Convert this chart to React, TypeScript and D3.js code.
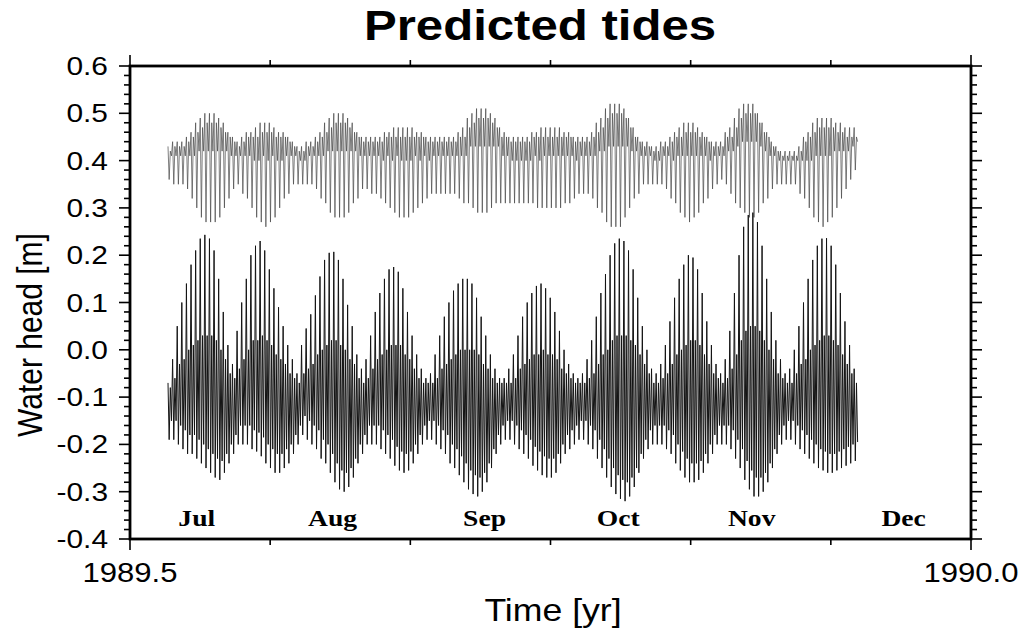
import React from "react";
import * as d3 from "d3";

// ---- text & axes ----
const titleText = "Predicted tides";
const xAxisLabel = "Time [yr]";
const yAxisLabel = "Water head [m]";
const xDomain = [1989.5, 1990.0];
const yDomain = [-0.4, 0.6];
const xTickValues = [1989.5, 1990.0];
const xTickLabels = ["1989.5", "1990.0"];
const yTickValues = [-0.4, -0.3, -0.2, -0.1, 0.0, 0.1, 0.2, 0.3, 0.4, 0.5, 0.6];
const yTickLabels = ["-0.4", "-0.3", "-0.2", "-0.1", "0.0", "0.1", "0.2", "0.3", "0.4", "0.5", "0.6"];
const monthLabels = ["Jul", "Aug", "Sep", "Oct", "Nov", "Dec"];
// label anchor: days after 1989.5
const monthLabelDays = [14.5, 44, 77, 106, 135, 168];

// ---- sampling: one entry per day, starting at firstDay (decimal year) ----
const firstDay = 1989.5226;
const daysPerYear = 365.25;

// lower record: daily higher high, lower low, lower high, higher low [m]
const lowerHigh = [
  -0.07, -0.02, 0.05, 0.10, 0.14, 0.18, 0.21, 0.235, 0.243, 0.235,
  0.21, 0.15, 0.08, 0.01, -0.03, 0.04, 0.10, 0.15, 0.20, 0.22,
  0.23, 0.21, 0.17, 0.13, 0.09, 0.05, 0.01, -0.02, -0.05, 0.01,
  0.045, 0.075, 0.115, 0.155, 0.19, 0.205, 0.207, 0.19, 0.15, 0.095,
  0.05, -0.01, -0.04, -0.02, 0.03, 0.08, 0.12, 0.15, 0.17, 0.175,
  0.165, 0.13, 0.08, 0.03, -0.01, -0.04, -0.06, -0.05, -0.01, 0.03,
  0.07, 0.10, 0.125, 0.14, 0.15, 0.15, 0.14, 0.11, 0.07, 0.03,
  -0.01, -0.04, -0.06, -0.06, -0.04, -0.01, 0.03, 0.07, 0.10, 0.12,
  0.135, 0.14, 0.13, 0.11, 0.08, 0.04, 0.00, -0.03, -0.05, -0.06,
  -0.05, -0.02, 0.02, 0.07, 0.12, 0.16, 0.20, 0.225, 0.235, 0.23,
  0.21, 0.17, 0.11, 0.05, 0.00, -0.04, -0.05, -0.03, 0.01, 0.06,
  0.11, 0.15, 0.18, 0.20, 0.195, 0.17, 0.12, 0.06, 0.01, -0.03,
  -0.05, -0.02, 0.04, 0.12, 0.20, 0.26, 0.285, 0.29, 0.27, 0.22,
  0.15, 0.08, 0.02, -0.02, -0.05, -0.04, 0.00, 0.05, 0.10, 0.15,
  0.19, 0.22, 0.235, 0.236, 0.22, 0.18, 0.12, 0.06, 0.01, -0.04,
];
const lowerLow = [
  -0.19, -0.19, -0.20, -0.21, -0.22, -0.22, -0.23, -0.24, -0.25, -0.26,
  -0.27, -0.275, -0.26, -0.24, -0.22, -0.20, -0.20, -0.20, -0.21, -0.215,
  -0.225, -0.24, -0.25, -0.26, -0.26, -0.25, -0.24, -0.22, -0.20, -0.18,
  -0.19, -0.20, -0.21, -0.23, -0.24, -0.26, -0.28, -0.295, -0.30, -0.29,
  -0.27, -0.24, -0.22, -0.20, -0.20, -0.20, -0.21, -0.22, -0.23, -0.245,
  -0.255, -0.26, -0.255, -0.24, -0.22, -0.20, -0.19, -0.19, -0.20, -0.21,
  -0.22, -0.24, -0.25, -0.265, -0.28, -0.295, -0.305, -0.31, -0.30, -0.28,
  -0.25, -0.22, -0.20, -0.19, -0.19, -0.20, -0.21, -0.22, -0.23, -0.245,
  -0.255, -0.265, -0.27, -0.27, -0.26, -0.24, -0.22, -0.21, -0.20, -0.19,
  -0.19, -0.20, -0.21, -0.23, -0.25, -0.27, -0.29, -0.305, -0.315, -0.32,
  -0.31, -0.29, -0.26, -0.23, -0.21, -0.20, -0.20, -0.20, -0.21, -0.22,
  -0.24, -0.255, -0.27, -0.28, -0.28, -0.275, -0.26, -0.24, -0.22, -0.20,
  -0.20, -0.20, -0.21, -0.23, -0.25, -0.275, -0.295, -0.31, -0.31, -0.30,
  -0.28, -0.25, -0.22, -0.20, -0.19, -0.19, -0.20, -0.21, -0.22, -0.23,
  -0.24, -0.25, -0.255, -0.26, -0.26, -0.255, -0.25, -0.245, -0.24, -0.235,
];
const lowerHigh2 = [
  -0.08, -0.06, -0.03, -0.02, 0.00, 0.01, 0.02, 0.03, 0.03, 0.03,
  0.02, 0.00, -0.02, -0.05, -0.06, -0.04, -0.02, 0.00, 0.02, 0.02,
  0.03, 0.02, 0.01, -0.01, -0.02, -0.03, -0.05, -0.06, -0.07, -0.05,
  -0.04, -0.03, -0.01, 0.00, 0.01, 0.02, 0.02, 0.01, 0.00, -0.02,
  -0.03, -0.06, -0.07, -0.06, -0.04, -0.02, -0.01, 0.00, 0.01, 0.01,
  0.01, -0.01, -0.02, -0.04, -0.06, -0.07, -0.07, -0.07, -0.06, -0.04,
  -0.03, -0.02, -0.01, 0.00, 0.00, 0.00, 0.00, -0.01, -0.03, -0.04,
  -0.06, -0.07, -0.07, -0.07, -0.07, -0.06, -0.04, -0.03, -0.02, -0.01,
  -0.01, 0.00, -0.01, -0.01, -0.02, -0.04, -0.05, -0.06, -0.07, -0.07,
  -0.07, -0.06, -0.05, -0.03, -0.01, 0.00, 0.02, 0.03, 0.03, 0.03,
  0.02, 0.01, -0.01, -0.03, -0.05, -0.07, -0.07, -0.06, -0.05, -0.03,
  -0.01, 0.00, 0.01, 0.02, 0.02, 0.01, -0.01, -0.03, -0.05, -0.06,
  -0.07, -0.06, -0.04, -0.01, 0.02, 0.04, 0.05, 0.05, 0.04, 0.02,
  0.00, -0.02, -0.05, -0.06, -0.07, -0.07, -0.05, -0.03, -0.02, 0.00,
  0.01, 0.02, 0.03, 0.03, 0.02, 0.01, -0.01, -0.03, -0.05, -0.07,
];
const lowerLow2 = [
  -0.15, -0.15, -0.16, -0.17, -0.18, -0.18, -0.19, -0.20, -0.21, -0.22,
  -0.23, -0.235, -0.22, -0.20, -0.18, -0.16, -0.16, -0.16, -0.17, -0.175,
  -0.185, -0.20, -0.21, -0.22, -0.22, -0.21, -0.20, -0.18, -0.16, -0.14,
  -0.15, -0.16, -0.17, -0.19, -0.20, -0.22, -0.24, -0.255, -0.26, -0.25,
  -0.23, -0.20, -0.18, -0.16, -0.16, -0.16, -0.17, -0.18, -0.19, -0.205,
  -0.215, -0.22, -0.215, -0.20, -0.18, -0.16, -0.15, -0.15, -0.16, -0.17,
  -0.18, -0.20, -0.21, -0.225, -0.24, -0.255, -0.265, -0.27, -0.26, -0.24,
  -0.21, -0.18, -0.16, -0.15, -0.15, -0.16, -0.17, -0.18, -0.19, -0.205,
  -0.215, -0.225, -0.23, -0.23, -0.22, -0.20, -0.18, -0.17, -0.16, -0.15,
  -0.15, -0.16, -0.17, -0.19, -0.21, -0.23, -0.25, -0.265, -0.275, -0.28,
  -0.27, -0.25, -0.22, -0.19, -0.17, -0.16, -0.16, -0.16, -0.17, -0.18,
  -0.20, -0.215, -0.23, -0.24, -0.24, -0.235, -0.22, -0.20, -0.18, -0.16,
  -0.16, -0.16, -0.17, -0.19, -0.21, -0.235, -0.255, -0.27, -0.27, -0.26,
  -0.24, -0.21, -0.18, -0.16, -0.15, -0.15, -0.16, -0.17, -0.18, -0.19,
  -0.20, -0.21, -0.215, -0.22, -0.22, -0.215, -0.21, -0.205, -0.20, -0.195,
];

// upper record: daily higher high, lower low, lower high, higher low [m]
const upperHigh = [
  0.43, 0.44, 0.44, 0.44, 0.45, 0.46, 0.48, 0.49, 0.50, 0.50,
  0.50, 0.49, 0.48, 0.46, 0.45, 0.44, 0.45, 0.46, 0.46, 0.47,
  0.48, 0.48, 0.48, 0.47, 0.46, 0.46, 0.45, 0.44, 0.43, 0.43,
  0.44, 0.44, 0.45, 0.46, 0.48, 0.49, 0.50, 0.50, 0.50, 0.49,
  0.48, 0.46, 0.45, 0.45, 0.45, 0.45, 0.45, 0.46, 0.46, 0.47,
  0.47, 0.47, 0.47, 0.47, 0.46, 0.46, 0.45, 0.45, 0.45, 0.45,
  0.45, 0.45, 0.45, 0.46, 0.47, 0.49, 0.50, 0.51, 0.51, 0.51,
  0.50, 0.49, 0.47, 0.46, 0.45, 0.45, 0.45, 0.45, 0.45, 0.46,
  0.46, 0.47, 0.47, 0.47, 0.47, 0.47, 0.46, 0.46, 0.45, 0.45,
  0.45, 0.45, 0.46, 0.48, 0.49, 0.51, 0.52, 0.52, 0.52, 0.51,
  0.49, 0.47, 0.45, 0.44, 0.44, 0.43, 0.43, 0.44, 0.44, 0.45,
  0.46, 0.47, 0.48, 0.48, 0.48, 0.47, 0.46, 0.45, 0.44, 0.44,
  0.44, 0.46, 0.47, 0.49, 0.51, 0.52, 0.52, 0.52, 0.50, 0.48,
  0.46, 0.44, 0.43, 0.42, 0.42, 0.42, 0.42, 0.43, 0.45, 0.46,
  0.48, 0.49, 0.49, 0.49, 0.49, 0.48, 0.48, 0.47, 0.47, 0.47,
];
const upperLow = [
  0.36, 0.35, 0.35, 0.35, 0.34, 0.32, 0.30, 0.28, 0.27, 0.27,
  0.27, 0.28, 0.30, 0.32, 0.34, 0.35, 0.33, 0.32, 0.30, 0.28,
  0.27, 0.26, 0.27, 0.28, 0.30, 0.32, 0.33, 0.35, 0.35, 0.35,
  0.35, 0.35, 0.34, 0.32, 0.31, 0.29, 0.28, 0.28, 0.28, 0.29,
  0.31, 0.32, 0.34, 0.34, 0.33, 0.33, 0.32, 0.31, 0.30, 0.29,
  0.28, 0.28, 0.28, 0.29, 0.30, 0.31, 0.32, 0.33, 0.33, 0.33,
  0.33, 0.33, 0.33, 0.32, 0.31, 0.31, 0.30, 0.29, 0.29, 0.29,
  0.30, 0.31, 0.31, 0.31, 0.31, 0.31, 0.31, 0.31, 0.31, 0.31,
  0.30, 0.30, 0.30, 0.30, 0.30, 0.30, 0.31, 0.31, 0.32, 0.33,
  0.33, 0.33, 0.32, 0.30, 0.29, 0.27, 0.26, 0.26, 0.26, 0.28,
  0.30, 0.32, 0.33, 0.35, 0.35, 0.35, 0.35, 0.35, 0.34, 0.32,
  0.31, 0.29, 0.28, 0.27, 0.28, 0.29, 0.31, 0.32, 0.34, 0.35,
  0.36, 0.35, 0.33, 0.31, 0.30, 0.29, 0.28, 0.28, 0.29, 0.31,
  0.32, 0.34, 0.35, 0.35, 0.35, 0.35, 0.35, 0.33, 0.32, 0.30,
  0.28, 0.27, 0.26, 0.27, 0.28, 0.30, 0.32, 0.34, 0.36, 0.38,
];
const upperHigh2 = [
  0.42, 0.43, 0.43, 0.43, 0.44, 0.45, 0.46, 0.47, 0.48, 0.48,
  0.48, 0.47, 0.46, 0.45, 0.44, 0.43, 0.44, 0.45, 0.45, 0.45,
  0.46, 0.46, 0.46, 0.45, 0.45, 0.45, 0.44, 0.43, 0.42, 0.42,
  0.43, 0.43, 0.44, 0.45, 0.46, 0.47, 0.48, 0.48, 0.48, 0.47,
  0.46, 0.45, 0.44, 0.44, 0.44, 0.44, 0.44, 0.45, 0.45, 0.45,
  0.45, 0.45, 0.45, 0.45, 0.45, 0.45, 0.44, 0.44, 0.44, 0.44,
  0.44, 0.44, 0.44, 0.45, 0.45, 0.47, 0.48, 0.49, 0.49, 0.49,
  0.48, 0.47, 0.45, 0.45, 0.44, 0.44, 0.44, 0.44, 0.44, 0.45,
  0.45, 0.45, 0.45, 0.45, 0.45, 0.45, 0.45, 0.45, 0.44, 0.44,
  0.44, 0.44, 0.45, 0.46, 0.47, 0.49, 0.50, 0.50, 0.50, 0.49,
  0.47, 0.45, 0.44, 0.43, 0.43, 0.42, 0.42, 0.43, 0.43, 0.44,
  0.45, 0.45, 0.46, 0.46, 0.46, 0.45, 0.45, 0.44, 0.43, 0.43,
  0.43, 0.45, 0.45, 0.47, 0.49, 0.50, 0.50, 0.50, 0.48, 0.46,
  0.45, 0.43, 0.42, 0.41, 0.41, 0.41, 0.41, 0.42, 0.44, 0.45,
  0.46, 0.47, 0.47, 0.47, 0.47, 0.46, 0.46, 0.45, 0.45, 0.45,
];
const upperLow2 = [
  0.41, 0.41, 0.41, 0.41, 0.41, 0.41, 0.42, 0.42, 0.42, 0.42,
  0.42, 0.42, 0.42, 0.41, 0.41, 0.41, 0.41, 0.41, 0.40, 0.40,
  0.41, 0.40, 0.41, 0.40, 0.40, 0.41, 0.41, 0.41, 0.40, 0.40,
  0.41, 0.41, 0.41, 0.41, 0.42, 0.42, 0.42, 0.42, 0.42, 0.42,
  0.42, 0.41, 0.41, 0.41, 0.41, 0.41, 0.40, 0.41, 0.40, 0.41,
  0.40, 0.40, 0.40, 0.41, 0.40, 0.41, 0.40, 0.41, 0.41, 0.41,
  0.41, 0.41, 0.41, 0.41, 0.41, 0.43, 0.43, 0.43, 0.43, 0.43,
  0.43, 0.43, 0.41, 0.41, 0.40, 0.40, 0.40, 0.40, 0.40, 0.41,
  0.40, 0.41, 0.41, 0.41, 0.41, 0.41, 0.41, 0.41, 0.40, 0.41,
  0.41, 0.41, 0.41, 0.42, 0.42, 0.43, 0.43, 0.43, 0.43, 0.43,
  0.42, 0.42, 0.41, 0.41, 0.41, 0.40, 0.40, 0.41, 0.41, 0.40,
  0.41, 0.41, 0.41, 0.41, 0.41, 0.41, 0.41, 0.40, 0.41, 0.41,
  0.41, 0.42, 0.42, 0.43, 0.44, 0.44, 0.44, 0.44, 0.43, 0.42,
  0.41, 0.41, 0.40, 0.40, 0.40, 0.40, 0.40, 0.40, 0.40, 0.40,
  0.41, 0.41, 0.41, 0.41, 0.42, 0.42, 0.42, 0.42, 0.43, 0.44,
];

// ---- layout ----
const W = 1023;
const H = 639;
const plotLeft = 130;
const plotRight = 971;
const plotTop = 66;
const plotBottom = 539;
const majorLen = 11;
const minorLen = 6;
const sansFont = "'Liberation Sans', Arial, Helvetica, sans-serif";
const serifFont = "'Liberation Serif', 'Times New Roman', serif";
const stretch = 1.15;

function buildPoints(h1: number[], l1: number[], h2: number[], l2: number[]) {
  const pts: [number, number][] = [];
  for (let d = 0; d < h1.length; d++) {
    const t = (k: number) => firstDay + (d + k) / daysPerYear;
    pts.push([t(0), h1[d]]);
    pts.push([t(0.25), l1[d]]);
    pts.push([t(0.5), h2[d]]);
    pts.push([t(0.75), l2[d]]);
  }
  return pts;
}

export default function App() {
  const x = d3.scaleLinear().domain(xDomain).range([plotLeft, plotRight]);
  const y = d3.scaleLinear().domain(yDomain).range([plotBottom, plotTop]);
  const line = d3
    .line<[number, number]>()
    .x((p) => x(p[0]))
    .y((p) => y(p[1]));

  const lowerPath = line(buildPoints(lowerHigh, lowerLow, lowerHigh2, lowerLow2)) || "";
  const upperPath = line(buildPoints(upperHigh, upperLow, upperHigh2, upperLow2)) || "";

  const yMinor = d3.range(0, 51).map((i) => yDomain[0] + i * 0.02);
  const monthTicks = d3.range(1, 6).map((m) => xDomain[0] + m / 12);

  return (
    <svg
      width={W}
      height={H}
      style={{ position: "absolute", left: 0, top: 0, display: "block", background: "#fff" }}
    >
      <rect x={0} y={0} width={W} height={H} fill="#fff" />
      <text
        transform={`translate(540,40) scale(${stretch + 0.02},1)`}
        textAnchor="middle"
        fontFamily={sansFont}
        fontWeight="bold"
        fontSize={42}
        fill="#000"
      >
        {titleText}
      </text>

      <g fill="none" strokeLinejoin="miter">
        <path d={upperPath} stroke="#474747" strokeWidth={0.7} />
        <path d={lowerPath} stroke="#141414" strokeWidth={1.0} />
      </g>

      {monthLabels.map((m, i) => (
        <text
          key={m}
          transform={`translate(${x(xDomain[0] + monthLabelDays[i] / daysPerYear)},526) scale(${stretch},1)`}
          textAnchor="middle"
          fontFamily={serifFont}
          fontWeight="bold"
          fontSize={24}
          fill="#000"
        >
          {m}
        </text>
      ))}

      <g stroke="#000" strokeWidth={1.6}>
        {yMinor.map((v, i) => {
          const len = i % 5 === 0 ? majorLen : minorLen;
          const yy = y(v);
          return (
            <g key={i}>
              <line x1={plotLeft - len} x2={plotLeft} y1={yy} y2={yy} />
              <line x1={plotRight} x2={plotRight + len} y1={yy} y2={yy} />
            </g>
          );
        })}
        {xTickValues.map((v, i) => (
          <g key={"xm" + i}>
            <line x1={x(v)} x2={x(v)} y1={plotBottom} y2={plotBottom + majorLen} />
            <line x1={x(v)} x2={x(v)} y1={plotTop - majorLen} y2={plotTop} />
          </g>
        ))}
        {monthTicks.map((v, i) => (
          <g key={"mt" + i}>
            <line x1={x(v)} x2={x(v)} y1={plotBottom} y2={plotBottom + minorLen} />
            <line x1={x(v)} x2={x(v)} y1={plotTop - minorLen} y2={plotTop} />
          </g>
        ))}
      </g>

      <rect
        x={plotLeft}
        y={plotTop}
        width={plotRight - plotLeft}
        height={plotBottom - plotTop}
        fill="none"
        stroke="#000"
        strokeWidth={2.8}
      />

      {yTickValues.map((v, i) => (
        <text
          key={"yl" + i}
          transform={`translate(108,${y(v) + 9}) scale(${stretch},1)`}
          textAnchor="end"
          fontFamily={sansFont}
          fontSize={26}
          fill="#000"
        >
          {yTickLabels[i]}
        </text>
      ))}

      {xTickValues.map((v, i) => (
        <text
          key={"xl" + i}
          transform={`translate(${x(v)},582) scale(${stretch},1)`}
          textAnchor="middle"
          fontFamily={sansFont}
          fontSize={27}
          fill="#000"
        >
          {xTickLabels[i]}
        </text>
      ))}

      <text
        transform={`translate(553,621) scale(${stretch},1)`}
        textAnchor="middle"
        fontFamily={sansFont}
        fontSize={31}
        fill="#000"
      >
        {xAxisLabel}
      </text>
      <text
        transform={`translate(42,335) rotate(-90) scale(1,${stretch})`}
        textAnchor="middle"
        fontFamily={sansFont}
        fontSize={30}
        fill="#000"
      >
        {yAxisLabel}
      </text>
    </svg>
  );
}
